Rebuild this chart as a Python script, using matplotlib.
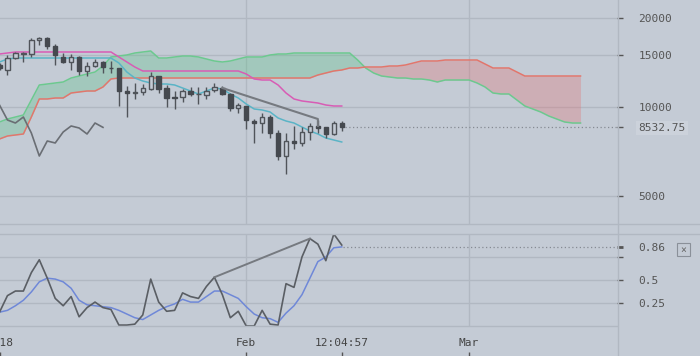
import numpy as np
import pandas as pd
import matplotlib
matplotlib.use('Agg')
import matplotlib.pyplot as plt
import matplotlib.dates as mdates
from matplotlib.ticker import NullLocator
from matplotlib.lines import Line2D
from matplotlib.patches import Rectangle

plt.rcParams['font.family'] = ['DejaVu Sans Mono', 'DejaVu Sans']

# daily candles, 2018-01-01 .. 2018-02-13
opens = [13870, 13341, 14647, 15110, 15110, 16850, 17115, 16050, 14762, 14198, 14762, 13237,
         13762, 14198, 13600, 13550, 11327, 11151, 11240, 11505, 12730, 11596, 10810, 10810,
         11327, 11066, 10980, 11417, 11596, 11066, 9922, 10078, 8966, 8827, 9250, 8167,
         6827, 7673, 7556, 8230, 8625, 8558, 8104, 8827]
highs = [14090, 14995, 15348, 15348, 17115, 17250, 17250, 16350, 15228, 15110, 14876, 14198,
         14534, 14309, 14309, 13550, 11778, 12056, 11962, 13134, 12730, 11870, 11327, 11505,
         11686, 11686, 11686, 12056, 11778, 11151, 10316, 10078, 9108, 9544, 9397, 8360,
         8167, 8625, 8558, 8827, 9037, 8558, 8966, 8966]
lows = [13340, 12830, 14534, 14198, 14762, 16206, 15740, 13870, 14088, 13341, 12830, 12730,
        13656, 13032, 13032, 10078, 9250, 10644, 10980, 11417, 11151, 10000, 9846, 10398,
        10900, 10236, 10644, 11240, 10980, 9693, 9544, 8425, 7556, 8167, 7854, 6620,
        5935, 7210, 7380, 7733, 8167, 7854, 8041, 8296]
closes = [13550, 14647, 15228, 15228, 16850, 17115, 16050, 14995, 14198, 14762, 13237, 13762,
          14198, 13656, 13550, 11327, 11151, 11200, 11596, 12730, 11505, 10726, 10726, 11327,
          11066, 11100, 11327, 11686, 11066, 9922, 10157, 9037, 8827, 9250, 8167, 6827,
          7673, 7556, 8230, 8625, 8492, 8104, 8827, 8532.75]

tenkan = [14198, 14534, 14647, 14647, 14647, 14647, 14647, 14647, 14647, 14647, 14647, 14647,
          14647, 14647, 14647, 14088, 13134, 12534, 12244, 12056, 11962, 11962, 11870, 11596,
          11327, 11066, 11327, 11596, 11505, 11066, 10726, 10236, 9846, 9770, 9618, 9180,
          8966, 8827, 8558, 8296, 8104, 7854, 7733, 7614]
kijun = [15110, 15228, 15348, 15348, 15348, 15348, 15348, 15348, 15348, 15348, 15348, 15348,
         15348, 15348, 15348, 14762, 14198, 13656, 13237, 13237, 13237, 13237, 13237, 13237,
         13237, 13237, 13237, 13237, 13237, 13237, 13237, 12931, 12437, 12340, 12340, 11870,
         11151, 10644, 10480, 10398, 10316, 10157, 10078, 10078]

# cloud, 2018-01-01 .. 2018-03-15
span_a = [8898, 9108, 9250, 9397, 10561, 11870, 11962, 12056, 12150, 12534, 12730, 12931,
          13134, 13762, 14762, 14876, 14995, 15228, 15348, 15468, 14647, 14647, 14762, 14876,
          14876, 14762, 14534, 14309, 14198, 14309, 14534, 14762, 14762, 14762, 14995, 15110,
          15110, 15228, 15228, 15228, 15228, 15228, 15228, 15228, 15228, 14421, 13550, 13032,
          12730, 12632, 12534, 12534, 12437, 12437, 12340, 12150, 12340, 12340, 12340, 12340,
          12056, 11686, 11151, 11066, 11066, 10561, 10078, 9846, 9618, 9324, 9108, 8898,
          8827, 8827]
span_b = [7794, 7978, 8041, 8104, 9250, 10644, 10644, 10726, 10726, 11151, 11240, 11327,
          11327, 11686, 12437, 12534, 12534, 12534, 12534, 12534, 12534, 12534, 12534, 12534,
          12534, 12534, 12534, 12534, 12534, 12534, 12534, 12534, 12534, 12534, 12534, 12534,
          12534, 12534, 12534, 12534, 12830, 13032, 13237, 13341, 13550, 13550, 13656, 13656,
          13656, 13762, 13762, 13870, 14088, 14309, 14309, 14309, 14421, 14421, 14421, 14421,
          14421, 13979, 13550, 13550, 13550, 13134, 12730, 12730, 12730, 12730, 12730, 12730,
          12730, 12730]

# stochastic
stoch_k = [0.15, 0.33, 0.38, 0.38, 0.58, 0.72, 0.52, 0.30, 0.22, 0.32, 0.10, 0.20, 0.26, 0.20,
           0.18, 0.01, 0.01, 0.02, 0.12, 0.51, 0.26, 0.16, 0.17, 0.36, 0.32, 0.30, 0.43, 0.53,
           0.34, 0.09, 0.16, 0.0, 0.0, 0.17, 0.02, 0.01, 0.46, 0.42, 0.75, 0.95, 0.89, 0.71,
           1.0, 0.88]
stoch_d = [0.15, 0.17, 0.22, 0.28, 0.37, 0.48, 0.52, 0.51, 0.48, 0.41, 0.28, 0.23, 0.22, 0.21,
           0.20, 0.17, 0.13, 0.09, 0.07, 0.12, 0.17, 0.21, 0.24, 0.29, 0.26, 0.26, 0.32, 0.38,
           0.38, 0.34, 0.30, 0.21, 0.13, 0.09, 0.08, 0.04, 0.14, 0.22, 0.34, 0.52, 0.70, 0.75,
           0.85, 0.86]

# user drawn trend lines
trend_dates = ['2018-01-29', '2018-02-10', '2018-02-10']
trend_vals = [11596, 9108, 8625]
trend2_dates = ['2018-01-28', '2018-02-09']
trend2_vals = [0.53, 0.95]

bg = '#c4cbd5'
grid = '#b1b8c2'
W, H = 700, 356


def frac(x0, y0, x1, y1):
    return [x0 / W, 1 - y1 / H, (x1 - x0) / W, (y1 - y0) / H]


def dn(s):
    return mdates.date2num(pd.to_datetime(s))


fig = plt.figure(figsize=(7, 3.56), dpi=100, facecolor=bg)
ax = fig.add_axes(frac(0, 0, 617, 224), facecolor=bg)
ax2 = fig.add_axes(frac(0, 234, 617, 326), facecolor=bg, sharex=ax)
axx = fig.add_axes(frac(0, 326, 617, 356), facecolor=bg, sharex=ax)

d = mdates.date2num(pd.date_range('2018-01-01', periods=len(closes), freq='D').to_pydatetime())
cd = mdates.date2num(pd.date_range('2018-01-01', periods=len(span_a), freq='D').to_pydatetime())
o, h, l, c = map(np.array, [opens, highs, lows, closes])
a, b = np.array(span_a), np.array(span_b)
xmin, xmax = dn('2018-01-01 01:30'), dn('2018-03-19 14:00')

# main pane
ax.set_yscale('log')
for v in [5000, 10000, 15000, 20000]:
    ax.axhline(v, color=grid, lw=1, zorder=0)
for s in ['2018-02-01', '2018-03-01']:
    ax.axvline(dn(s), color=grid, lw=1, zorder=0)
    ax2.axvline(dn(s), color=grid, lw=1, zorder=0)

ax.fill_between(cd, a, b, where=a >= b, interpolate=True, color='#5fc48a', alpha=0.33, lw=0, zorder=1)
ax.fill_between(cd, a, b, where=a < b, interpolate=True, color='#e07476', alpha=0.33, lw=0, zorder=1)
ax.plot(cd, a, color='#6cc98f', lw=1.1, zorder=2)
ax.plot(cd, b, color='#e2766c', lw=1.1, zorder=2)

ax.plot(d[:14], c[30:], color='#6a6e74', lw=1.2, zorder=2)
ax.plot(d, kijun, color='#d85cb5', lw=1.1, zorder=2)
ax.plot(d, tenkan, color='#5ab4c6', lw=1.1, zorder=2)

up = c >= o
ax.vlines(d, l, h, color='#50545a', lw=1, zorder=3)
ax.bar(d[up], c[up] - o[up], bottom=o[up], width=0.55, facecolor=bg,
       edgecolor='#50545a', lw=1, zorder=4)
ax.bar(d[~up], o[~up] - c[~up], bottom=c[~up], width=0.55, facecolor='#45494f',
       edgecolor='#45494f', lw=1, zorder=4)

ax.plot([dn(s) for s in trend_dates], trend_vals, color='#767a80', lw=1.5, zorder=5)
ax.hlines(c[-1], d[-1] + 0.4, xmax, colors='#858b93', linestyles=(0, (1, 2)), lw=0.9)

ax.set_xlim(xmin, xmax)
ax.set_ylim(4020, 23010)
ax.yaxis.tick_right()
ax.set_yticks([5000, 8532.75, 10000, 15000, 20000],
              ['5000', '8532.75', '10000', '15000', '20000'])
ax.yaxis.set_minor_locator(NullLocator())
ax.tick_params(axis='y', direction='out', length=4.3, width=1, color='#555',
               pad=11, labelsize=8, labelcolor='#555')
ax.tick_params(axis='x', bottom=False, labelbottom=False)
ax.get_yticklabels()[1].set_bbox(dict(facecolor='#ccd2db', edgecolor='none', pad=1.5))

# stochastic pane
for v in [0.25, 0.5, 0.75]:
    ax2.axhline(v, color=grid, lw=1, zorder=0)
ax2.plot(d, stoch_d, color='#6f88d8', lw=1.1, zorder=2)
ax2.plot(d, stoch_k, color='#5a5e64', lw=1.2, zorder=3)
ax2.plot([dn(s) for s in trend2_dates], trend2_vals, color='#767a80', lw=1.4, zorder=3)
ax2.hlines(stoch_d[-1], d[-1] + 0.2, xmax, colors='#858b93', linestyles=(0, (1, 2)), lw=0.9)
ax2.set_ylim(0, 1)
ax2.yaxis.tick_right()
ax2.set_yticks([0.25, 0.5, 0.75, 0.86], ['0.25', '0.5', '', '0.86'])
ax2.tick_params(axis='y', direction='out', length=4.3, width=1, color='#555',
                pad=11, labelsize=8, labelcolor='#555')
ax2.yaxis.get_major_ticks()[3].tick2line.set_color('#6f88d8')
ax2.yaxis.get_major_ticks()[3].tick2line.set_markeredgewidth(2)
ax2.tick_params(axis='x', bottom=False, labelbottom=False)

# time strip
axx.set_ylim(0, 30)
axx.axis('off')
for s, lab in [('2018-01-01', '2018'), ('2018-02-01', 'Feb'),
               ('2018-02-13', '12:04:57'), ('2018-03-01', 'Mar')]:
    axx.text(dn(s), 13, lab, ha='center', va='center', fontsize=8, color='#444')
    axx.vlines(dn(s), 0, 4, color='#555', lw=1)

for axis in (ax, ax2):
    for sp in axis.spines.values():
        sp.set_visible(False)

# separators
for y in [224, 234]:
    fig.add_artist(Line2D([0, 1], [1 - y / H] * 2, color=grid, lw=1, transform=fig.transFigure))
fig.add_artist(Line2D([0, 617 / W], [1 - 326 / H] * 2, color=grid, lw=1, transform=fig.transFigure))
fig.add_artist(Line2D([617.5 / W] * 2, [0, 1], color=grid, lw=1, transform=fig.transFigure))

fig.add_artist(Rectangle((677 / W, 1 - 256 / H), 13 / W, 13 / H, transform=fig.transFigure,
                         fill=False, edgecolor='#8a9099', lw=0.8))
fig.text(683.5 / W, 1 - 249.5 / H, '×', ha='center', va='center', fontsize=7, color='#666')

fig.savefig('out.png', dpi=100, facecolor=bg)
